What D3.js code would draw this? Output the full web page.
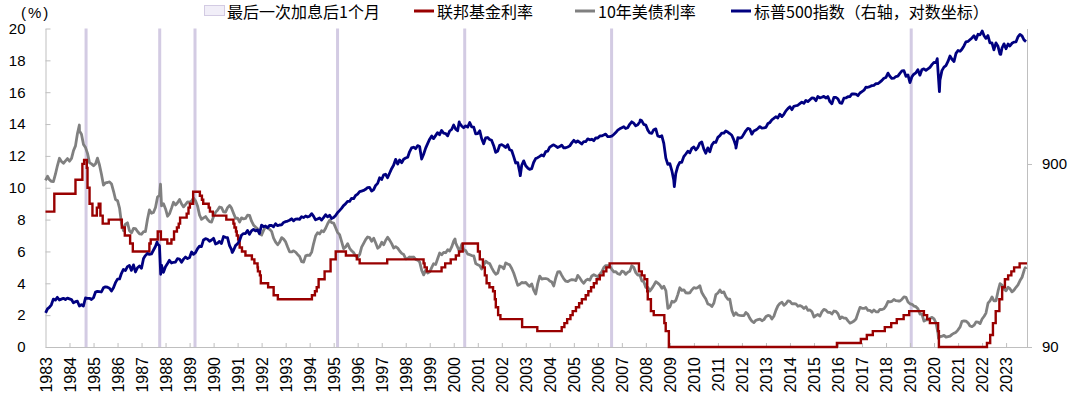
<!DOCTYPE html>
<html lang="en">
<head>
  <meta charset="utf-8">
  <title>fed hikes, 10y yield and s&p 500</title>
  <script type="text/javascript" src="https://cdnjs.cloudflare.com/ajax/libs/d3/7.8.5/d3.min.js"></script>
  <style>
    body {
      margin: 0px;
      background: #ffffff;
    }
    svg {
      display: block;
    }
    .num {
      font-family: "Liberation Sans", Arial, sans-serif;
      font-size: 15px;
      fill: #000000;
    }
    .year {
      font-size: 16px;
    }
    .cn {
      font-family: "Noto Sans CJK SC", "Liberation Sans", sans-serif;
      font-size: 16px;
      fill: #000000;
    }
  </style>
</head>
<body>
  <script type="text/javascript">
    //////////// DATA

    var yearTicks = d3.range(1983, 2024);
    var leftTicks = [0, 2, 4, 6, 8, 10, 12, 14, 16, 18, 20];
    var rightTicks = [90, 900];

    // one month after the last hike of each cycle
    var hikeMarks = ["1984-09-09", "1987-10-04", "1989-03-24", "1995-03-01",
                     "2000-06-16", "2006-07-29", "2019-01-19"];

    // fed funds target (lower bound after 2008), [date of change, rate]
    var fedSteps = [
      ["1983-01-01", 8.5], ["1983-05-15", 9.625], ["1984-04-01", 10.5], ["1984-07-15", 11.5],
      ["1984-08-10", 11.75], ["1984-09-20", 11.25], ["1984-10-01", 10.0], ["1984-11-01", 9.0],
      ["1984-12-15", 8.25], ["1985-02-20", 8.75], ["1985-03-20", 9.0], ["1985-04-15", 8.25],
      ["1985-05-20", 7.75], ["1985-08-20", 8.0], ["1986-03-07", 7.5], ["1986-04-21", 7.0],
      ["1986-07-11", 6.5], ["1986-08-21", 6.0], ["1987-04-30", 6.5], ["1987-05-20", 6.75],
      ["1987-09-04", 7.25], ["1987-10-22", 6.75], ["1988-01-28", 6.5], ["1988-03-30", 6.75],
      ["1988-05-09", 7.25], ["1988-06-22", 7.5], ["1988-07-19", 7.75], ["1988-08-09", 8.125],
      ["1988-11-17", 8.375], ["1988-12-15", 8.75], ["1989-01-05", 9.0], ["1989-02-24", 9.75],
      ["1989-06-06", 9.5], ["1989-07-07", 9.25], ["1989-07-27", 9.0], ["1989-10-18", 8.75],
      ["1989-11-06", 8.5], ["1989-12-20", 8.25], ["1990-07-13", 8.0], ["1990-10-29", 7.75],
      ["1990-11-14", 7.5], ["1990-12-07", 7.25], ["1990-12-19", 7.0], ["1991-01-09", 6.75],
      ["1991-02-01", 6.25], ["1991-03-08", 6.0], ["1991-04-30", 5.75], ["1991-08-06", 5.5],
      ["1991-09-13", 5.25], ["1991-10-31", 5.0], ["1991-11-06", 4.75], ["1991-12-06", 4.5],
      ["1991-12-20", 4.0], ["1992-04-09", 3.75], ["1992-07-02", 3.25], ["1992-09-04", 3.0],
      ["1994-02-04", 3.25], ["1994-03-22", 3.5], ["1994-04-18", 3.75], ["1994-05-17", 4.25],
      ["1994-08-16", 4.75], ["1994-11-15", 5.5], ["1995-02-01", 6.0], ["1995-07-06", 5.75],
      ["1995-12-19", 5.5], ["1996-01-31", 5.25], ["1997-03-25", 5.5], ["1998-09-29", 5.25],
      ["1998-10-15", 5.0], ["1998-11-17", 4.75], ["1999-06-30", 5.0], ["1999-08-24", 5.25],
      ["1999-11-16", 5.5], ["2000-02-02", 5.75], ["2000-03-21", 6.0], ["2000-05-16", 6.5],
      ["2001-01-03", 6.0], ["2001-01-31", 5.5], ["2001-03-20", 5.0], ["2001-04-18", 4.5],
      ["2001-05-15", 4.0], ["2001-06-27", 3.75], ["2001-08-21", 3.5], ["2001-09-17", 3.0],
      ["2001-10-02", 2.5], ["2001-11-06", 2.0], ["2001-12-11", 1.75], ["2002-11-06", 1.25],
      ["2003-06-25", 1.0], ["2004-06-30", 1.25], ["2004-08-10", 1.5], ["2004-09-21", 1.75],
      ["2004-11-10", 2.0], ["2004-12-14", 2.25], ["2005-02-02", 2.5], ["2005-03-22", 2.75],
      ["2005-05-03", 3.0], ["2005-06-30", 3.25], ["2005-08-09", 3.5], ["2005-09-20", 3.75],
      ["2005-11-01", 4.0], ["2005-12-13", 4.25], ["2006-01-31", 4.5], ["2006-03-28", 4.75],
      ["2006-05-10", 5.0], ["2006-06-29", 5.25], ["2007-09-18", 4.75], ["2007-10-31", 4.5],
      ["2007-12-11", 4.25], ["2008-01-22", 3.5], ["2008-01-30", 3.0], ["2008-03-18", 2.25],
      ["2008-04-30", 2.0], ["2008-10-08", 1.5], ["2008-10-29", 1.0], ["2008-12-16", 0.0],
      ["2015-12-16", 0.25], ["2016-12-14", 0.5], ["2017-03-15", 0.75], ["2017-06-14", 1.0],
      ["2017-12-13", 1.25], ["2018-03-21", 1.5], ["2018-06-13", 1.75], ["2018-09-26", 2.0],
      ["2018-12-19", 2.25], ["2019-07-31", 2.0], ["2019-09-18", 1.75], ["2019-10-30", 1.5],
      ["2020-03-03", 1.0], ["2020-03-15", 0.0], ["2022-03-16", 0.25], ["2022-05-04", 0.75],
      ["2022-06-15", 1.5], ["2022-07-27", 2.25], ["2022-09-21", 3.0], ["2022-11-02", 3.75],
      ["2022-12-14", 4.25], ["2023-02-01", 4.5], ["2023-03-22", 4.75], ["2023-05-03", 5.0],
      ["2023-07-26", 5.25], ["2023-11-15", 5.25]
    ];

    // 10y treasury yield, monthly from Jan 1983
    var t10Monthly = [
      10.46, 10.72, 10.51, 10.40, 10.38, 10.85, 11.38, 11.85, 11.65, 11.54, 11.69, 11.83, // 1983
      11.67, 11.84, 12.32, 12.63, 13.41, 13.56, 13.36, 12.72, 12.52, 12.16, 11.57, 11.50, // 1984
      11.38, 11.51, 11.86, 11.43, 10.85, 10.16, 10.31, 10.33, 10.37, 10.24, 9.78, 9.26,   // 1985
      9.19, 8.70, 7.78, 7.30, 7.71, 7.80, 7.30, 7.17, 7.45, 7.43, 7.25, 7.11,             // 1986
      7.08, 7.25, 7.25, 8.02, 8.61, 8.40, 8.45, 8.76, 9.42, 9.52, 8.86, 8.99,             // 1987
      8.67, 8.21, 8.37, 8.72, 9.09, 8.92, 9.06, 9.26, 8.98, 8.80, 8.96, 9.11,             // 1988
      9.09, 9.17, 9.36, 9.18, 8.86, 8.28, 8.02, 8.11, 8.19, 8.01, 7.87, 7.84,             // 1989
      8.21, 8.47, 8.59, 8.79, 8.76, 8.48, 8.47, 8.75, 8.89, 8.72, 8.39, 8.08,             // 1990
      8.09, 7.85, 8.11, 8.04, 8.07, 8.28, 8.27, 7.90, 7.65, 7.53, 7.42, 7.09,             // 1991
      7.03, 7.34, 7.54, 7.48, 7.39, 7.26, 6.84, 6.59, 6.42, 6.59, 6.87, 6.77,             // 1992
      6.60, 6.26, 5.98, 5.97, 6.04, 5.96, 5.81, 5.68, 5.36, 5.33, 5.72, 5.77,             // 1993
      5.75, 5.97, 6.48, 6.97, 7.18, 7.10, 7.30, 7.24, 7.46, 7.74, 7.96, 7.81,             // 1994
      7.78, 7.47, 7.20, 7.06, 6.63, 6.17, 6.28, 6.49, 6.20, 6.04, 5.93, 5.71,             // 1995
      5.65, 5.81, 6.27, 6.51, 6.74, 6.91, 6.87, 6.64, 6.83, 6.53, 6.20, 6.30,             // 1996
      6.58, 6.42, 6.69, 6.89, 6.71, 6.49, 6.22, 6.30, 6.21, 6.03, 5.88, 5.81,             // 1997
      5.54, 5.57, 5.65, 5.64, 5.65, 5.50, 5.46, 5.34, 4.81, 4.53, 4.83, 4.65,             // 1998
      4.72, 5.00, 5.23, 5.18, 5.54, 5.90, 5.79, 5.94, 5.92, 6.11, 6.03, 6.28,             // 1999
      6.66, 6.52, 6.26, 5.99, 6.44, 6.10, 6.05, 5.83, 5.80, 5.74, 5.72, 5.24,             // 2000
      5.16, 5.10, 4.89, 5.14, 5.39, 5.28, 5.24, 4.97, 4.73, 4.57, 4.65, 5.09,             // 2001
      5.04, 4.91, 5.28, 5.21, 5.16, 4.93, 4.65, 4.26, 3.87, 3.94, 4.05, 4.03,             // 2002
      4.05, 3.90, 3.81, 3.96, 3.57, 3.33, 3.98, 4.45, 4.27, 4.29, 4.30, 4.27,             // 2003
      4.15, 4.08, 3.83, 4.35, 4.72, 4.73, 4.50, 4.28, 4.13, 4.10, 4.19, 4.23,             // 2004
      4.22, 4.17, 4.50, 4.34, 4.14, 4.00, 4.18, 4.26, 4.20, 4.46, 4.54, 4.47,             // 2005
      4.42, 4.57, 4.72, 4.99, 5.11, 5.11, 5.09, 4.88, 4.72, 4.73, 4.60, 4.56,             // 2006
      4.76, 4.72, 4.56, 4.69, 4.75, 5.10, 5.00, 4.67, 4.52, 4.53, 4.15, 4.10,             // 2007
      3.74, 3.74, 3.51, 3.68, 3.88, 4.10, 4.01, 3.89, 3.69, 3.81, 3.53, 2.42,             // 2008
      2.52, 2.87, 2.82, 2.93, 3.29, 3.72, 3.56, 3.59, 3.40, 3.39, 3.40, 3.59,             // 2009
      3.73, 3.69, 3.73, 3.85, 3.42, 3.20, 3.01, 2.70, 2.65, 2.54, 2.76, 3.29,             // 2010
      3.39, 3.58, 3.41, 3.46, 3.17, 3.00, 3.00, 2.30, 1.98, 2.15, 2.01, 1.98,             // 2011
      1.97, 1.97, 2.17, 2.05, 1.80, 1.62, 1.53, 1.68, 1.72, 1.75, 1.65, 1.72,             // 2012
      1.91, 1.98, 1.96, 1.76, 1.93, 2.30, 2.58, 2.74, 2.81, 2.62, 2.72, 2.90,             // 2013
      2.86, 2.71, 2.72, 2.71, 2.56, 2.60, 2.54, 2.42, 2.53, 2.30, 2.33, 2.21,             // 2014
      1.88, 1.98, 2.04, 1.94, 2.20, 2.36, 2.32, 2.17, 2.17, 2.07, 2.26, 2.24,             // 2015
      2.09, 1.78, 1.89, 1.81, 1.81, 1.64, 1.50, 1.56, 1.63, 1.76, 2.14, 2.49,             // 2016
      2.43, 2.42, 2.48, 2.30, 2.30, 2.19, 2.32, 2.21, 2.20, 2.36, 2.35, 2.40,             // 2017
      2.58, 2.86, 2.84, 2.87, 2.98, 2.91, 2.89, 2.89, 3.00, 3.15, 3.12, 2.83,             // 2018
      2.71, 2.68, 2.57, 2.53, 2.40, 2.07, 2.06, 1.63, 1.70, 1.71, 1.81, 1.86,             // 2019
      1.76, 1.50, 0.87, 0.66, 0.67, 0.73, 0.62, 0.65, 0.68, 0.79, 0.87, 0.93,             // 2020
      1.08, 1.26, 1.61, 1.64, 1.62, 1.52, 1.32, 1.28, 1.37, 1.58, 1.56, 1.47,             // 2021
      1.76, 1.93, 2.13, 2.75, 2.90, 3.14, 2.90, 2.90, 3.52, 3.98, 3.89, 3.62,             // 2022
      3.53, 3.75, 3.66, 3.46, 3.57, 3.75, 3.90, 4.17, 4.38, 4.80, 4.88                    // 2023
    ];
    // visible daily extremes of the 10y yield
    var t10Extremes = [["1984-05-30", 13.94], ["1987-10-16", 10.23], ["2000-01-20", 6.79],
                       ["2020-03-09", 0.54], ["2023-10-19", 4.98]];

    // s&p 500, month-end close from Jan 1983
    var spxMonthly = [
      145.3, 148.1, 153.0, 164.4, 162.4, 168.1, 162.6, 164.4, 166.1, 163.6, 166.4, 164.9, // 1983
      163.4, 157.1, 159.2, 160.1, 150.6, 153.2, 150.7, 166.7, 166.1, 166.1, 163.6, 167.2, // 1984
      179.6, 181.2, 180.7, 179.8, 189.6, 191.9, 190.9, 188.6, 182.1, 189.8, 202.2, 211.3, // 1985
      211.8, 226.9, 238.9, 235.5, 247.4, 250.8, 236.1, 252.9, 231.3, 244.0, 249.2, 242.2, // 1986
      274.1, 284.2, 291.7, 288.4, 290.1, 304.0, 318.7, 329.8, 321.8, 251.8, 230.3, 247.1, // 1987
      257.1, 267.8, 258.9, 261.3, 262.2, 273.5, 272.0, 261.5, 271.9, 279.0, 273.7, 277.7, // 1988
      297.5, 288.9, 294.9, 309.6, 320.5, 318.0, 346.1, 351.5, 349.2, 340.4, 346.0, 353.4, // 1989
      329.1, 331.9, 339.9, 330.8, 361.2, 358.0, 356.2, 322.6, 306.1, 304.0, 322.2, 330.2, // 1990
      343.9, 367.1, 375.2, 375.3, 389.8, 371.2, 387.8, 395.4, 387.9, 392.5, 375.2, 417.1, // 1991
      408.8, 412.7, 403.7, 415.0, 415.4, 408.1, 424.2, 414.0, 417.8, 418.7, 431.4, 435.7, // 1992
      438.8, 443.4, 451.7, 440.2, 450.2, 451.0, 448.1, 463.6, 458.9, 467.8, 461.8, 466.5, // 1993
      481.6, 467.1, 445.8, 450.9, 456.5, 444.3, 458.3, 475.5, 462.7, 472.4, 453.7, 459.3, // 1994
      470.4, 487.4, 500.7, 514.7, 533.4, 544.8, 562.1, 561.9, 584.4, 581.5, 605.4, 615.9, // 1995
      636.0, 640.4, 645.5, 654.2, 669.1, 670.6, 640.0, 652.0, 687.3, 705.3, 757.0, 740.7, // 1996
      786.2, 791.0, 757.1, 801.3, 848.3, 885.1, 954.3, 899.5, 947.3, 914.6, 955.4, 970.4, // 1997
      980.3, 1049.3, 1101.8, 1111.8, 1090.8, 1133.8, 1120.7, 957.3, 1017.0, 1098.7, 1163.6, 1229.2, // 1998
      1279.6, 1238.3, 1286.4, 1335.2, 1301.8, 1372.7, 1328.7, 1320.4, 1282.7, 1362.9, 1388.9, 1469.3, // 1999
      1394.5, 1366.4, 1498.6, 1452.4, 1420.6, 1454.6, 1430.8, 1517.7, 1436.5, 1429.4, 1315.2, 1320.3, // 2000
      1366.0, 1239.9, 1160.3, 1249.5, 1255.8, 1224.4, 1211.2, 1133.6, 1040.9, 1059.8, 1139.5, 1148.1, // 2001
      1130.2, 1106.7, 1147.4, 1076.9, 1067.1, 989.8, 911.6, 916.1, 815.3, 885.8, 936.3, 879.8,       // 2002
      855.7, 841.2, 848.2, 916.9, 963.6, 974.5, 990.3, 1008.0, 996.0, 1050.7, 1058.2, 1111.9,        // 2003
      1131.1, 1144.9, 1126.2, 1107.3, 1120.7, 1140.8, 1101.7, 1104.2, 1114.6, 1130.2, 1173.8, 1211.9, // 2004
      1181.3, 1203.6, 1180.6, 1156.9, 1191.5, 1191.3, 1234.2, 1220.3, 1228.8, 1207.0, 1249.5, 1248.3, // 2005
      1280.1, 1280.7, 1294.9, 1310.6, 1270.1, 1270.2, 1276.7, 1303.8, 1335.9, 1377.9, 1400.6, 1418.3, // 2006
      1438.2, 1406.8, 1420.9, 1482.4, 1530.6, 1503.4, 1455.3, 1474.0, 1527.3, 1549.4, 1481.1, 1468.4, // 2007
      1378.6, 1330.6, 1322.7, 1385.6, 1400.4, 1280.0, 1267.4, 1282.8, 1166.4, 968.8, 896.2, 903.3,    // 2008
      825.9, 735.1, 797.9, 872.8, 919.1, 919.3, 987.5, 1020.6, 1057.1, 1036.2, 1095.6, 1115.1,        // 2009
      1073.9, 1104.5, 1169.4, 1186.7, 1089.4, 1030.7, 1101.6, 1049.3, 1141.2, 1183.3, 1180.6, 1257.6, // 2010
      1286.1, 1327.2, 1325.8, 1363.6, 1345.2, 1320.6, 1292.3, 1218.9, 1131.4, 1253.3, 1247.0, 1257.6, // 2011
      1312.4, 1365.7, 1408.5, 1397.9, 1310.3, 1362.2, 1379.3, 1406.6, 1440.7, 1412.2, 1416.2, 1426.2, // 2012
      1498.1, 1514.7, 1569.2, 1597.6, 1630.7, 1606.3, 1685.7, 1633.0, 1681.6, 1756.5, 1805.8, 1848.4, // 2013
      1782.6, 1859.5, 1872.3, 1884.0, 1923.6, 1960.2, 1930.7, 2003.4, 1972.3, 2018.1, 2067.6, 2058.9, // 2014
      1995.0, 2104.5, 2067.9, 2085.5, 2107.4, 2063.1, 2103.8, 1972.2, 1920.0, 2079.4, 2080.4, 2043.9, // 2015
      1940.2, 1932.2, 2059.7, 2065.3, 2097.0, 2098.9, 2173.6, 2171.0, 2168.3, 2126.2, 2199.0, 2238.8, // 2016
      2278.9, 2363.6, 2362.7, 2384.2, 2411.8, 2423.4, 2470.3, 2471.7, 2519.4, 2575.3, 2647.6, 2673.6, // 2017
      2823.8, 2713.8, 2640.9, 2648.1, 2705.3, 2718.4, 2816.3, 2901.5, 2914.0, 2711.7, 2760.2, 2506.9, // 2018
      2704.1, 2784.5, 2834.4, 2945.8, 2752.1, 2941.8, 2980.4, 2926.5, 2976.7, 3037.6, 3141.0, 3230.8, // 2019
      3225.5, 2954.2, 2584.6, 2912.4, 3044.3, 3100.3, 3271.1, 3500.3, 3363.0, 3270.0, 3621.6, 3756.1, // 2020
      3714.2, 3811.2, 3972.9, 4181.2, 4204.1, 4297.5, 4395.3, 4522.7, 4307.5, 4605.4, 4567.0, 4766.2, // 2021
      4515.6, 4373.9, 4530.4, 4131.9, 4132.2, 3785.4, 4130.3, 3955.0, 3585.6, 3872.0, 4080.1, 3839.5, // 2022
      4076.6, 3970.2, 4109.3, 4169.5, 4179.8, 4450.4, 4589.0, 4507.7, 4288.1, 4193.8                  // 2023
    ];
    // start value and visible daily extremes of the s&p 500
    var spxExtremes = [["1983-01-03", 138.3], ["1987-08-25", 336.8], ["1987-10-19", 224.8],
                       ["1990-10-11", 295.5], ["2000-03-24", 1527.5], ["2002-10-09", 776.8],
                       ["2007-10-09", 1565.2], ["2009-03-09", 676.5], ["2011-10-03", 1099.2],
                       ["2020-02-19", 3386.2], ["2020-03-23", 2237.4], ["2022-01-03", 4796.6],
                       ["2022-10-12", 3577.0]];

    //////////// BUILD SERIES

    var parse = d3.timeParse("%Y-%m-%d");

    function byDate(a, b) { return a.date - b.date; }

    var t10 = t10Monthly.map(function (v, i) {
      return { date: new Date(1983, i, 1), value: v };
    }).concat(t10Extremes.map(function (d) {
      return { date: parse(d[0]), value: d[1] };
    })).sort(byDate);

    // month-end close sits on the last day of its month
    var spx = spxMonthly.map(function (v, i) {
      return { date: new Date(1983, i + 1, 0), value: v };
    }).concat(spxExtremes.map(function (d) {
      return { date: parse(d[0]), value: d[1] };
    })).sort(byDate);

    var fed = fedSteps.map(function (d) { return { date: parse(d[0]), value: d[1] }; });

    //////////// SVG

    var width = 1080;
    var height = 402;
    var plotLeft = 45.5, plotRight = 1027, plotTop = 28.5, plotBottom = 347;

    var svg = d3.select("body").append("svg")
      .attr("width", width)
      .attr("height", height);

    var x = d3.scaleTime()
      .domain([new Date(1983, 0, 1), new Date(2023, 10, 15)])
      .range([plotLeft, plotRight]);
    var yLeft = d3.scaleLinear().domain([0, 20]).range([plotBottom, plotTop]);
    var yRight = d3.scaleLog().domain([90, 4950]).range([plotBottom, plotTop]);

    // last hike + 1 month markers
    svg.append("g").selectAll("rect")
      .data(hikeMarks).enter().append("rect")
      .attr("x", function (d) { return x(parse(d)) - 1.5; })
      .attr("y", plotTop)
      .attr("width", 3)
      .attr("height", plotBottom - plotTop)
      .attr("fill", "#d3cbe3");

    // axes
    var axisColor = "#bfbfbf";

    var gLeft = svg.append("g")
      .attr("transform", "translate(" + plotLeft + ",0)")
      .call(d3.axisLeft(yLeft).tickValues(leftTicks).tickSizeInner(-5).tickSizeOuter(0).tickPadding(20));

    var gRight = svg.append("g")
      .attr("transform", "translate(" + plotRight + ",0)")
      .call(d3.axisRight(yRight).tickValues(rightTicks).tickFormat(d3.format("d"))
        .tickSizeInner(5).tickSizeOuter(0).tickPadding(10));

    var gBottom = svg.append("g")
      .attr("transform", "translate(0," + plotBottom + ")")
      .call(d3.axisBottom(x)
        .tickValues(yearTicks.map(function (yr) { return new Date(yr, 0, 1); }))
        .tickFormat(d3.timeFormat("%Y"))
        .tickSizeInner(-4).tickSizeOuter(0));

    [gLeft, gRight, gBottom].forEach(function (g) {
      g.selectAll("path, line").attr("stroke", axisColor);
      g.selectAll("text").attr("class", "num").attr("fill", null);
      g.attr("font-family", null).attr("font-size", null);
    });

    gBottom.selectAll(".tick text")
      .attr("class", "num year")
      .attr("transform", "rotate(-90)")
      .attr("x", -10)
      .attr("y", 0)
      .attr("dy", "0.36em")
      .attr("text-anchor", "end");
    gBottom.selectAll(".tick").filter(function (d, i) { return i === 0; }).select("line").remove();

    // lines
    var t10Line = d3.line()
      .x(function (d) { return x(d.date); })
      .y(function (d) { return yLeft(d.value); });
    var fedLine = d3.line()
      .curve(d3.curveStepAfter)
      .x(function (d) { return x(d.date); })
      .y(function (d) { return yLeft(d.value); });
    var spxLine = d3.line()
      .x(function (d) { return x(d.date); })
      .y(function (d) { return yRight(d.value); });

    svg.append("path").datum(t10)
      .attr("d", t10Line)
      .attr("fill", "none").attr("stroke", "#808080").attr("stroke-width", 2.8)
      .attr("stroke-linejoin", "round");
    svg.append("path").datum(fed)
      .attr("d", fedLine)
      .attr("fill", "none").attr("stroke", "#990000").attr("stroke-width", 2.4);
    svg.append("path").datum(spx)
      .attr("d", spxLine)
      .attr("fill", "none").attr("stroke", "#000080").attr("stroke-width", 2.8)
      .attr("stroke-linejoin", "round");

    // unit label
    svg.append("text").attr("class", "num")
      .attr("x", 21).attr("y", 18)
      .attr("letter-spacing", 2)
      .text("(%)");

    // legend
    var legend = svg.append("g");
    legend.append("rect")
      .attr("x", 204.5).attr("y", 5.5).attr("width", 20).attr("height", 10)
      .attr("fill", "#f1eef8").attr("stroke", "#d3cbe3");
    legend.append("text").attr("class", "cn").attr("x", 227).attr("y", 17.5).text("最后一次加息后1个月");

    var legendLines = [
      { x: 414, text: "联邦基金利率", color: "#990000" },
      { x: 575, text: "10年美债利率", color: "#808080" },
      { x: 731, text: "标普500指数（右轴，对数坐标）", color: "#000080" }
    ];
    legendLines.forEach(function (d) {
      legend.append("line")
        .attr("x1", d.x).attr("x2", d.x + 20).attr("y1", 11).attr("y2", 11)
        .attr("stroke", d.color).attr("stroke-width", 3);
      legend.append("text").attr("class", "cn").attr("x", d.x + 23).attr("y", 17.5).text(d.text);
    });
  </script>
</body>
</html>
